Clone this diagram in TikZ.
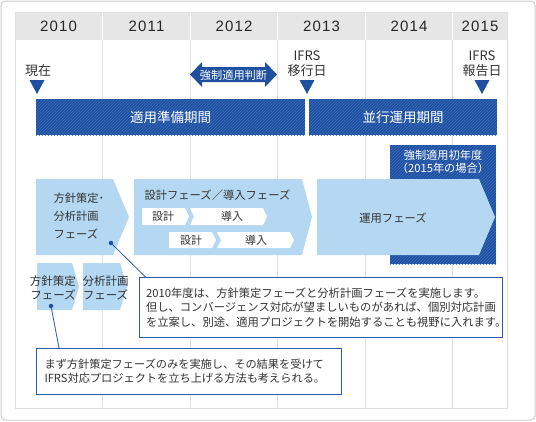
\documentclass[tikz,border=0pt]{standalone}
\usepackage{fontspec}
\newfontfamily\jp{Noto Sans CJK JP}
\newfontfamily\yr[LetterSpace=8]{Liberation Sans}
\usetikzlibrary{patterns,calc}
\definecolor{dblue}{HTML}{1F50A0}
\definecolor{hatch}{HTML}{3D6EBE}
\definecolor{lblue}{HTML}{B4D7F2}
\definecolor{gridc}{HTML}{E0E0E0}
\definecolor{headc}{HTML}{E6E6E6}
\definecolor{framec}{HTML}{CCCCCC}
\definecolor{txt}{HTML}{333333}
\definecolor{lineb}{HTML}{2A5AAA}
\tikzset{
  yearlbl/.style={font=\yr\fontsize{15}{15}\selectfont, text=black!85},
  marklbl/.style={font=\jp\fontsize{13}{14.5}\selectfont, align=center, text=txt},
  hatched/.style={fill=dblue, postaction={pattern=north east lines, pattern color=hatch}},
  barbox/.style={hatched, text=white, font=\jp\fontsize{13.5}{15}\selectfont, inner sep=0pt, anchor=north west},
  phasefill/.style={fill=lblue},
  chevfill/.style={fill=white},
  ptxt/.style={font=\jp\fontsize{11.3}{18}\selectfont, text=txt},
  smalltxt/.style={font=\jp\fontsize{11}{14}\selectfont, text=txt},
  callout/.style={draw=lineb, line width=1pt, fill=white, anchor=north west, align=left,
     text=txt},
  dotnode/.style={circle, fill=dblue, inner sep=0pt, minimum size=4.5pt},
  leadline/.style={draw=lineb, line width=0.8pt},
  trifill/.style={fill=dblue}
}
\begin{document}
\begin{tikzpicture}[x=1pt,y=-1pt]
\useasboundingbox (0,0) rectangle (536,421);
% frame and panel
\draw[framec, rounded corners=4pt, line width=1pt] (1,1) rectangle (535,420);
\fill[headc] (15,12) rectangle (507,40);
\foreach \x in {102,190,277.5,365,452.5} {
  \draw[white, line width=1pt] (\x,12) -- (\x,40);
  \draw[gridc, line width=1pt] (\x,40) -- (\x,408);
}
\draw[gridc, line width=1pt] (15,12) rectangle (507,408);
% years
\node[yearlbl] (y10) at (58.5,26) {2010};
\node[yearlbl] (y11) at (146.5,26) {2011};
\node[yearlbl] (y12) at (234,26) {2012};
\node[yearlbl] (y13) at (321.5,26) {2013};
\node[yearlbl] (y14) at (409,26) {2014};
\node[yearlbl] (y15) at (480,26) {2015};
% markers
\node[marklbl] (now) at (38,71) {現在};
\node[marklbl] (trans) at (307,63.5) {IFRS\\移行日};
\node[marklbl] (rep) at (482,63.5) {IFRS\\報告日};
\fill[trifill] (29.5,80) -- (44.5,80) -- (37,94) -- cycle;
\fill[trifill] (299.5,80) -- (314.5,80) -- (307,94) -- cycle;
\fill[trifill] (474.5,80) -- (489.5,80) -- (482,94) -- cycle;
% double arrow
\fill[dblue] (190,74.5) -- (202,62) -- (202,67) -- (265,67) -- (265,62) -- (277,74.5)
  -- (265,87) -- (265,82) -- (202,82) -- (202,87) -- cycle;
\node[font=\jp\fontsize{11.2}{12}\selectfont, text=white] (judge) at (233.5,75) {強制適用判断};
% bars
\node[barbox, minimum width=269pt, minimum height=36pt] (prep) at (36,99) {適用準備期間};
\node[barbox, minimum width=188pt, minimum height=36pt] (para) at (309,99) {並行運用期間};
% first-year box
\path[hatched] (390,145) rectangle (496,264);
\node[font=\jp\fontsize{11.2}{13}\selectfont, text=white, align=center] (first) at (443,161.5) {強制適用初年度\\（2015年の場合）};
% phases
\fill[phasefill] (36,179) -- (113,179) -- (129,217) -- (113,255) -- (36,255) -- cycle;
\fill[phasefill] (134,179) -- (302,179) -- (312,217) -- (302,255) -- (134,255) -- cycle;
\fill[phasefill] (317,179) -- (479,179) -- (495,217) -- (479,255) -- (317,255) -- cycle;
\node[ptxt, anchor=west, align=left] (p1) at (50,216) {方針策定･\\分析計画\\フェーズ};
\node[ptxt, anchor=west] (p2) at (141,195) {設計フェーズ／導入フェーズ};
\node[ptxt] (p3) at (393,218) {運用フェーズ};
% chevrons
\fill[chevfill] (142,208) -- (185,208) -- (189,216.5) -- (185,225) -- (142,225) -- cycle;
\fill[chevfill] (190,208) -- (263,208) -- (267,216.5) -- (263,225) -- (190,225) -- (194,216.5) -- cycle;
\fill[chevfill] (169,232) -- (212,232) -- (216,240) -- (212,248) -- (169,248) -- cycle;
\fill[chevfill] (217,232) -- (290,232) -- (294,240) -- (290,248) -- (217,248) -- (221,240) -- cycle;
\node[smalltxt] (d1) at (163,216.5) {設計};
\node[smalltxt] (i1) at (232,216.5) {導入};
\node[smalltxt] (d2) at (191,240) {設計};
\node[smalltxt] (i2) at (256,240) {導入};
% small phases
\fill[phasefill] (37,263) -- (72,263) -- (79,286.5) -- (72,310) -- (37,310) -- cycle;
\fill[phasefill] (83,263) -- (120,263) -- (127,286.5) -- (120,310) -- (83,310) -- cycle;
\node[font=\jp\fontsize{11.5}{14}\selectfont, text=txt, align=center] (s1) at (53,287.5) {方針策定\\フェーズ};
\node[font=\jp\fontsize{11.5}{14}\selectfont, text=txt, align=center] (s2) at (105.5,287.5) {分析計画\\フェーズ};
% callouts
\node[callout, font=\jp\fontsize{11.3}{14.5}\selectfont, minimum width=363pt, minimum height=60pt, text width=350pt, inner xsep=6.5pt] (c1) at (139,277)
 {2010年度は、方針策定フェーズと分析計画フェーズを実施します。\\但し、コンバージェンス対応が望ましいものがあれば、個別対応計画\\を立案し、別途、適用プロジェクトを開始することも視野に入れます。};
\node[callout, font=\jp\fontsize{11.2}{14}\selectfont, minimum width=305pt, minimum height=46pt, text width=289pt, inner xsep=8pt] (c2) at (36,348)
 {まず方針策定フェーズのみを実施し、その結果を受けて\\IFRS対応プロジェクトを立ち上げる方法も考えられる。};
% dots and leaders
\node[dotnode] (dA) at (111,243) {};
\node[dotnode] (dB) at (51,306) {};
\draw[leadline] (dA.center) -- ($(c1.north west)+(6.5,0)$);
\draw[leadline] (dB.center) -- ($(c2.north west)+(23,0)$);
\end{tikzpicture}
\end{document}
